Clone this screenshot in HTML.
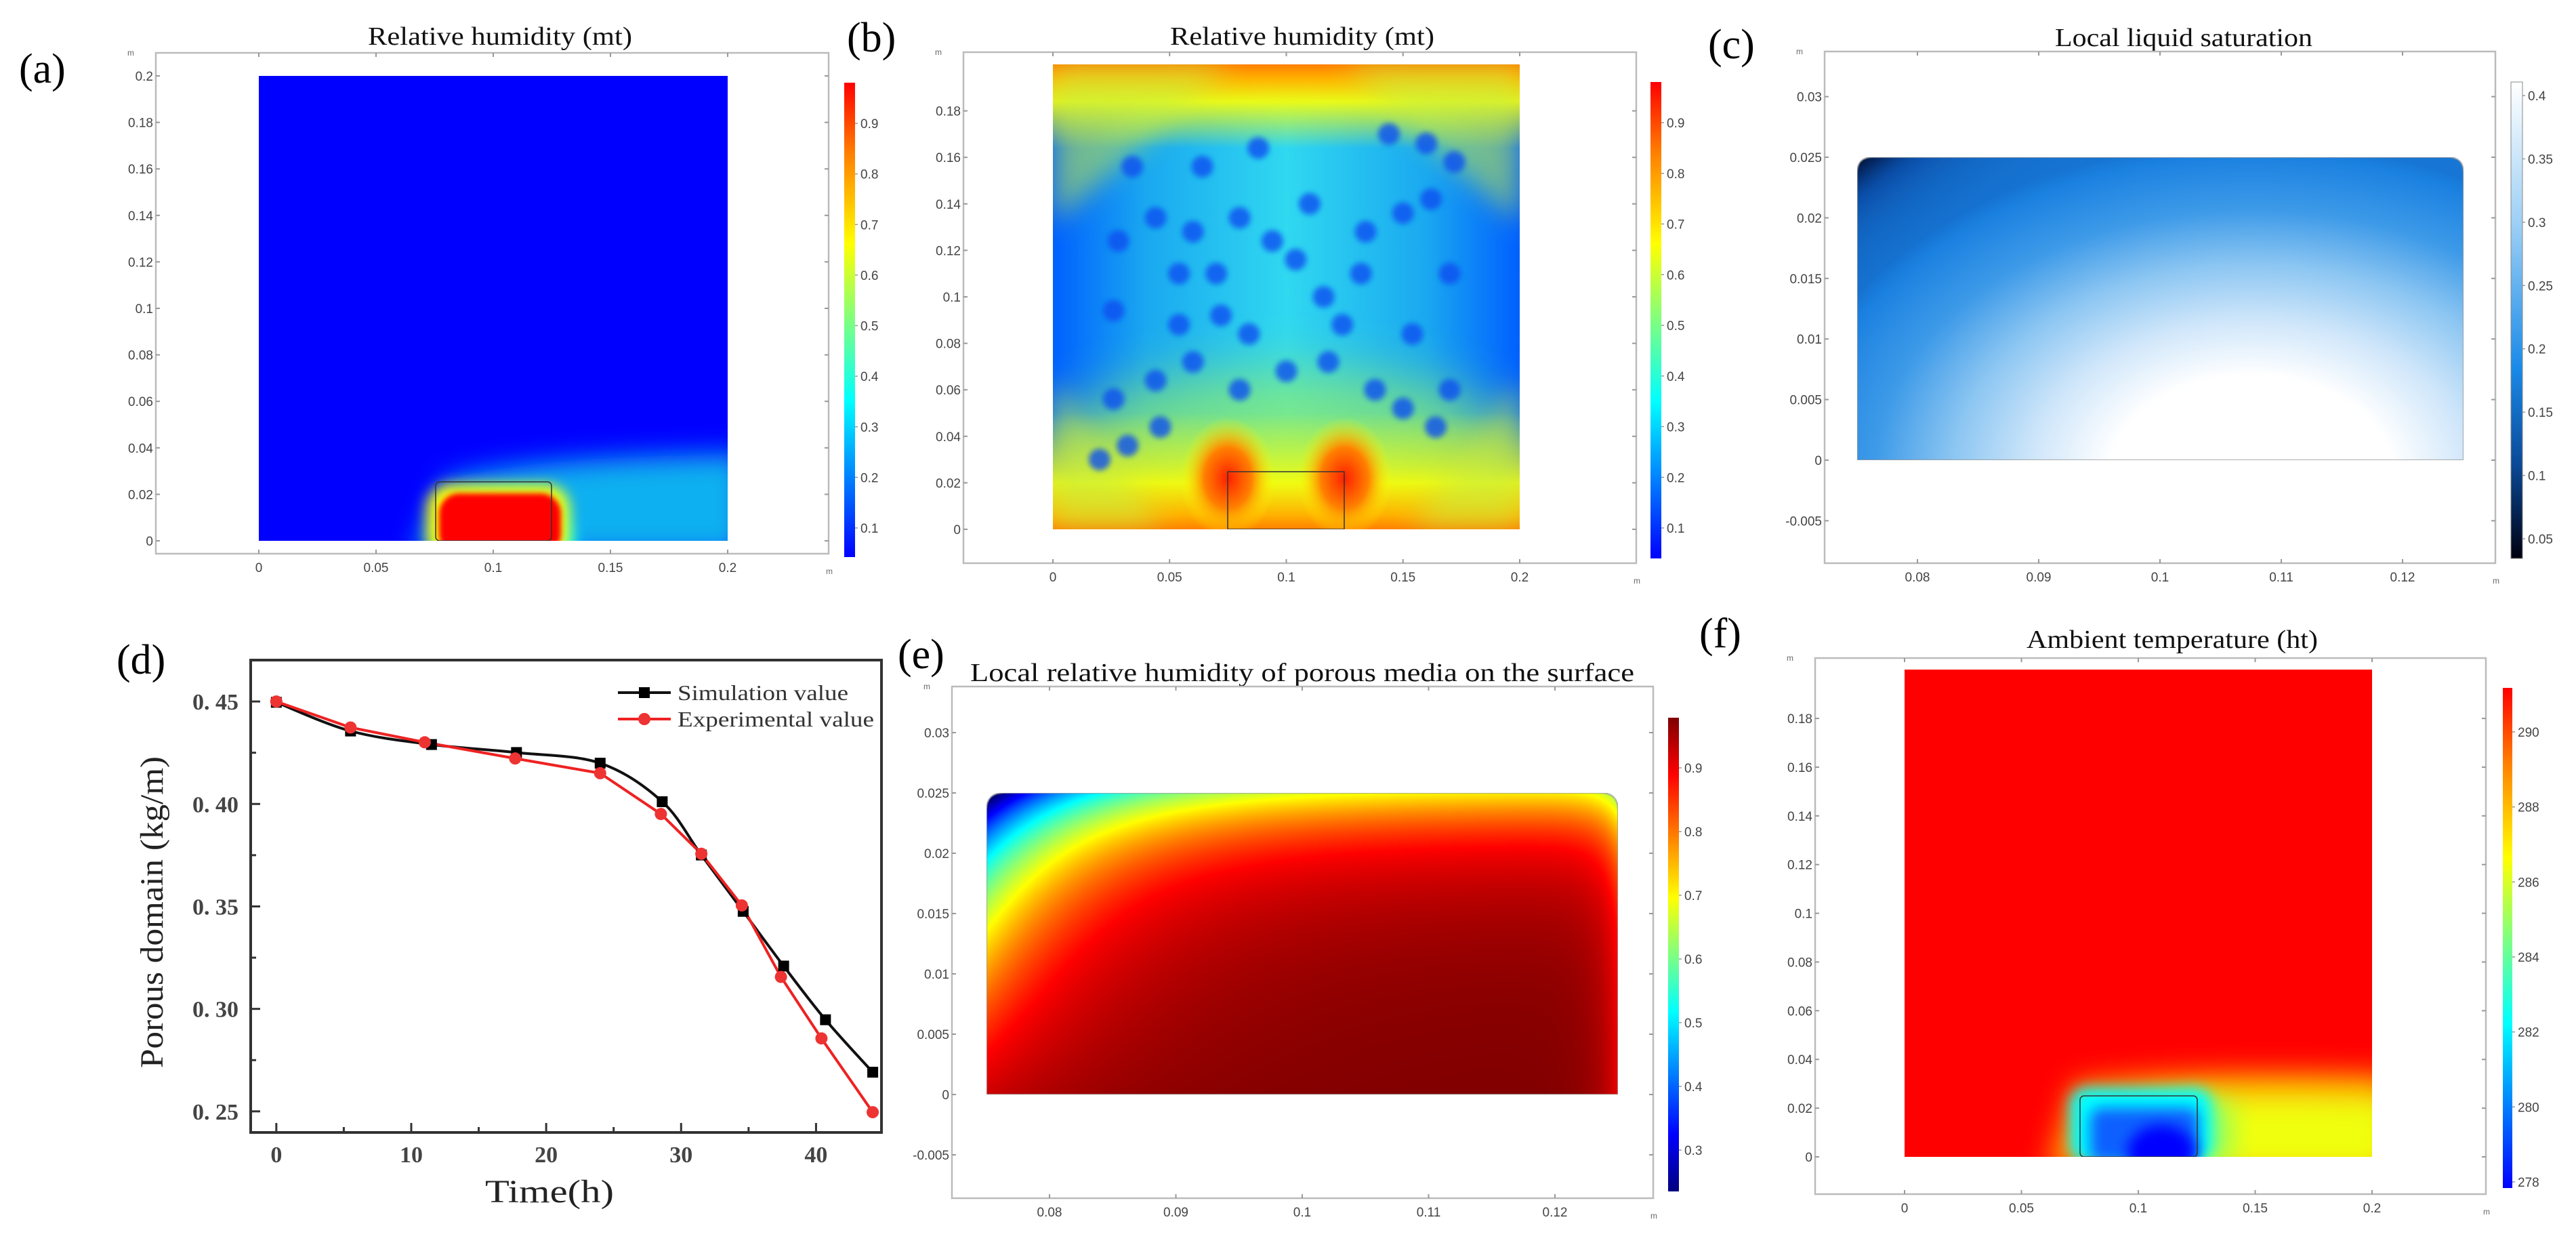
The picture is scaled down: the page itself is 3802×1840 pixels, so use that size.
<!DOCTYPE html>
<html><head><meta charset="utf-8"><style>
html,body{margin:0;padding:0;background:#fff;}
body{position:relative;width:3802px;height:1840px;overflow:hidden;}
svg{display:block;}
canvas{position:absolute;}
</style></head><body>
<svg id="fig" xmlns="http://www.w3.org/2000/svg" width="3802" height="1840" viewBox="0 0 3802 1840">
<defs>
<linearGradient id="jet" x1="0" y1="1" x2="0" y2="0">
<stop offset="0" stop-color="#0000ff"/><stop offset="0.33" stop-color="#00ffff"/><stop offset="0.5" stop-color="#7fff7f"/><stop offset="0.66" stop-color="#ffff00"/><stop offset="0.85" stop-color="#ff8000"/><stop offset="1" stop-color="#ff0000"/>
</linearGradient>
<linearGradient id="jetdark" x1="0" y1="1" x2="0" y2="0">
<stop offset="0" stop-color="#00007f"/><stop offset="0.12" stop-color="#0000ff"/><stop offset="0.38" stop-color="#00ffff"/><stop offset="0.62" stop-color="#ffff00"/><stop offset="0.88" stop-color="#ff0000"/><stop offset="1" stop-color="#7f0000"/>
</linearGradient>
<linearGradient id="blues" x1="0" y1="1" x2="0" y2="0">
<stop offset="0" stop-color="#000010"/><stop offset="0.2" stop-color="#0a4a99"/><stop offset="0.4" stop-color="#1a8ae8"/><stop offset="0.7" stop-color="#9ccff5"/><stop offset="1" stop-color="#ffffff"/>
</linearGradient>
<linearGradient id="bvert" x1="0" y1="0" x2="0" y2="1">
<stop offset="0" stop-color="#ff8000"/><stop offset="0.03" stop-color="#ffb000"/><stop offset="0.08" stop-color="#ffff00" stop-opacity="0.9"/><stop offset="0.18" stop-color="#ffff00" stop-opacity="0"/><stop offset="0.75" stop-color="#ffff00" stop-opacity="0"/><stop offset="0.9" stop-color="#ffff00" stop-opacity="0.9"/><stop offset="0.97" stop-color="#ffb000"/><stop offset="1" stop-color="#ff8000"/>
</linearGradient>
<linearGradient id="bhor" x1="0" y1="0" x2="1" y2="0">
<stop offset="0" stop-color="#0060ff"/><stop offset="0.2" stop-color="#1aa8f0"/><stop offset="0.5" stop-color="#30d8f0"/><stop offset="0.8" stop-color="#1aa8f0"/><stop offset="1" stop-color="#0060ff"/>
</linearGradient>
<radialGradient id="hot"><stop offset="0" stop-color="#ff2000"/><stop offset="0.5" stop-color="#ff8000"/><stop offset="1" stop-color="#ffff00" stop-opacity="0"/></radialGradient>
<filter id="blur40" x="-50%" y="-50%" width="200%" height="200%"><feGaussianBlur stdDeviation="40"/></filter>
<filter id="blur20" x="-50%" y="-50%" width="200%" height="200%"><feGaussianBlur stdDeviation="20"/></filter>
<filter id="blur10" x="-50%" y="-50%" width="200%" height="200%"><feGaussianBlur stdDeviation="10"/></filter>
<filter id="blur4" x="-50%" y="-50%" width="200%" height="200%"><feGaussianBlur stdDeviation="4"/></filter>
<clipPath id="clipA"><rect x="382" y="112" width="692" height="686"/></clipPath>
<clipPath id="clipB"><rect x="1554" y="95" width="689" height="686"/></clipPath>
<clipPath id="clipF"><rect x="2811" y="988" width="690" height="719"/></clipPath>
</defs>
<g id="root"></g>
</svg>
<script>
// ===== Chart (d) data =====
const simTime = [0, 5.5, 11.5, 17.8, 24, 28.6, 31.5, 34.6, 37.6, 40.7, 44.2];
const simValue = [0.4496, 0.4356, 0.4290, 0.4251, 0.4199, 0.4011, 0.3751, 0.3476, 0.3209, 0.2947, 0.2691];
const expTime = [0, 5.5, 11, 17.7, 24, 28.5, 31.5, 34.5, 37.4, 40.4, 44.2];
const expValue = [0.4500, 0.4373, 0.4301, 0.4222, 0.4150, 0.3951, 0.3757, 0.3505, 0.3156, 0.2856, 0.2496];
const xTicks = [0, 10, 20, 30, 40];
const yTicks = [0.25, 0.30, 0.35, 0.40, 0.45];
const yTickLabels = ["0. 25", "0. 30", "0. 35", "0. 40", "0. 45"];
const seriesNames = ["Simulation value", "Experimental value"];
// colorbar tick labels
const cbarA = ["0.1","0.2","0.3","0.4","0.5","0.6","0.7","0.8","0.9"];
const cbarC = ["0.4","0.35","0.3","0.25","0.2","0.15","0.1","0.05"];
const cbarE = ["0.9","0.8","0.7","0.6","0.5","0.4","0.3"];
const cbarF = ["290","288","286","284","282","280","278"];

const NS = "http://www.w3.org/2000/svg";
const root = document.getElementById('root');
function mk(tag, attrs, parent, text){
  const e = document.createElementNS(NS, tag);
  for (const k in attrs) e.setAttribute(k, attrs[k]);
  if (text !== undefined) e.textContent = text;
  (parent || root).appendChild(e);
  return e;
}
const SANS = '"Liberation Sans", sans-serif';
const SERIF = '"Liberation Serif", serif';

function panelLabel(txt, x, y, name){
  const t = mk('text', {x:x, y:y, 'font-family':SERIF, 'font-size':62, fill:'#000'}, root, txt);
  
  
}
function title(txt, cx, y, w, name){
  const t = mk('text', {x:cx, y:y, 'text-anchor':'middle', 'font-family':SERIF, 'font-size':38, fill:'#111', textLength:w, lengthAdjust:'spacingAndGlyphs'}, root, txt);
  
  
}
function comsolAxes(o){
  const g = mk('g', {});
  
  
  mk('rect', {x:o.fx0, y:o.fy0, width:o.fx1-o.fx0, height:o.fy1-o.fy0, fill:'none', stroke:'#bbb', 'stroke-width':2.5}, g);
  o.yt.forEach(v=>{
    const y = o.y0 + (v - 0) * o.ys;
    mk('line', {x1:o.fx0, y1:y, x2:o.fx0+6, y2:y, stroke:'#999', 'stroke-width':2}, g);
    mk('line', {x1:o.fx1, y1:y, x2:o.fx1-6, y2:y, stroke:'#999', 'stroke-width':2}, g);
    const t = mk('text', {x:o.fx0-4, y:y+7, 'text-anchor':'end', 'font-family':SANS, 'font-size':19, fill:'#444'}, g, o.yf(v));
    
    
  });
  o.xt.forEach(v=>{
    const x = o.x0 + v * o.xs;
    mk('line', {x1:x, y1:o.fy1, x2:x, y2:o.fy1-6, stroke:'#999', 'stroke-width':2}, g);
    mk('line', {x1:x, y1:o.fy0, x2:x, y2:o.fy0+6, stroke:'#999', 'stroke-width':2}, g);
    const t = mk('text', {x:x, y:o.fy1+27, 'text-anchor':'middle', 'font-family':SANS, 'font-size':19, fill:'#444'}, g, o.xf(v));
    
    
  });
  mk('text', {x:o.fx1-4, y:o.fy1+30, 'font-family':SANS, 'font-size':12, fill:'#666'}, g, 'm');
  mk('text', {x:o.fx0-42, y:o.fy0+4, 'font-family':SANS, 'font-size':12, fill:'#666'}, g, 'm');
}
function colorbar(x, y0, w, y1, grad, labels, ly0, ly1, name){
  const g = mk('g', {});
  
  
  mk('rect', {x:x, y:y0, width:w, height:y1-y0, fill:'url(#'+grad+')', stroke: grad==='blues'?'#888':'none', 'stroke-width':1}, g);
  labels.forEach((l,i)=>{
    const y = ly0 + (ly1-ly0)*i/(labels.length-1);
    mk('line', {x1:x+w, y1:y, x2:x+w+4, y2:y, stroke:'#999', 'stroke-width':1.5}, g);
    mk('text', {x:x+w+8, y:y+7, 'font-family':SANS, 'font-size':19, fill:'#444'}, g, l);
  });
}
function fmt(v){ return (Math.round(v*1000)/1000).toString(); }

function lerpMap(stops, t){
  if (t <= stops[0][0]) return stops[0].slice(1);
  for (let i=1;i<stops.length;i++){
    if (t <= stops[i][0]){
      const a = stops[i-1], b = stops[i], f = (t-a[0])/(b[0]-a[0]);
      return [a[1]+(b[1]-a[1])*f, a[2]+(b[2]-a[2])*f, a[3]+(b[3]-a[3])*f];
    }
  }
  return stops[stops.length-1].slice(1);
}
function heatCanvas(x, y, w, h, rad, fn, stops, name){
  const c = document.createElement('canvas');
  c.width = w; c.height = h;
  c.style.left = x + 'px'; c.style.top = y + 'px';
  
  
  document.body.appendChild(c);
  const ctx = c.getContext('2d');
  const img = ctx.createImageData(w, h);
  for (let j=0;j<h;j++){
    for (let i=0;i<w;i++){
      const col = lerpMap(stops, fn(i/(w-1), j/(h-1)));
      const k = (j*w+i)*4;
      img.data[k]=col[0]; img.data[k+1]=col[1]; img.data[k+2]=col[2]; img.data[k+3]=255;
    }
  }
  ctx.putImageData(img, 0, 0);
  ctx.globalCompositeOperation = 'destination-in';
  ctx.beginPath();
  ctx.moveTo(0, h); ctx.lineTo(0, rad); ctx.quadraticCurveTo(0,0,rad,0);
  ctx.lineTo(w-rad,0); ctx.quadraticCurveTo(w,0,w,rad); ctx.lineTo(w,h); ctx.closePath();
  ctx.fill();
  ctx.globalCompositeOperation = 'source-over';
  ctx.strokeStyle = 'rgba(150,150,150,0.8)'; ctx.lineWidth = 2; ctx.stroke();
}

// ===== Panel (a) =====
panelLabel('(a)', 28, 122, 'panel-label-a');
title('Relative humidity (mt)', 738, 66, 390, 'title-a');
comsolAxes({name:'panel-a', fx0:230, fy0:78, fx1:1223, fy1:817, x0:382, xs:3460, y0:798, ys:-3430,
  yt:[0,0.02,0.04,0.06,0.08,0.1,0.12,0.14,0.16,0.18,0.2], xt:[0,0.05,0.1,0.15,0.2], yf:fmt, xf:fmt});
(function(){
  const g = mk('g', {'clip-path':'url(#clipA)'});
  
  
  mk('rect', {x:382, y:112, width:692, height:686, fill:'#0000ff'}, g);
  mk('path', {d:'M610 820 L660 710 Q760 675 1100 670 L1100 820 Z', fill:'#10b0f0', filter:'url(#blur20)'}, g);
  mk('path', {d:'M640 820 L665 740 Q760 715 830 735 L855 820 Z', fill:'#00ffff', filter:'url(#blur10)'}, g);
  mk('rect', {x:630, y:715, width:210, height:110, rx:35, fill:'#ffff00', filter:'url(#blur10)'}, g);
  mk('rect', {x:648, y:728, width:180, height:90, rx:30, fill:'#ff0000', filter:'url(#blur4)'}, g);
  mk('rect', {x:643, y:711, width:171, height:87, rx:6, fill:'none', stroke:'#333', 'stroke-width':1.5}, g);
})();
colorbar(1246, 122, 16, 822, 'jet', cbarA.slice().reverse(), 182, 779, 'colorbar-a');

// ===== Panel (b) =====
panelLabel('(b)', 1250, 76, 'panel-label-b');
title('Relative humidity (mt)', 1922, 66, 390, 'title-b');
comsolAxes({name:'panel-b', fx0:1422, fy0:77, fx1:2415, fy1:831, x0:1554, xs:3445, y0:781, ys:-3430,
  yt:[0,0.02,0.04,0.06,0.08,0.1,0.12,0.14,0.16,0.18], xt:[0,0.05,0.1,0.15,0.2], yf:fmt, xf:fmt});
const blobs = [[0.17,0.78],[0.32,0.78],[0.44,0.82],[0.72,0.85],[0.80,0.83],[0.86,0.79],[0.22,0.67],[0.30,0.64],[0.40,0.67],[0.47,0.62],[0.55,0.70],[0.67,0.64],[0.75,0.68],[0.81,0.71],[0.14,0.62],[0.13,0.47],[0.27,0.55],[0.35,0.55],[0.58,0.50],[0.66,0.55],[0.85,0.55],[0.27,0.44],[0.36,0.46],[0.42,0.42],[0.62,0.44],[0.77,0.42],[0.13,0.28],[0.22,0.32],[0.30,0.36],[0.40,0.30],[0.50,0.34],[0.59,0.36],[0.69,0.30],[0.75,0.26],[0.85,0.30],[0.16,0.18],[0.23,0.22],[0.10,0.15],[0.82,0.22],[0.52,0.58]];
(function(){
  const g = mk('g', {'clip-path':'url(#clipB)'});
  
  
  mk('rect', {x:1554, y:95, width:689, height:686, fill:'url(#bhor)'}, g);
  mk('ellipse', {cx:1898, cy:640, rx:330, ry:90, fill:'#9af060', opacity:0.7, filter:'url(#blur40)'}, g);
  mk('rect', {x:1554, y:95, width:689, height:686, fill:'url(#bvert)'}, g);
  mk('path', {d:'M1554 95 L1820 95 L1554 330 Z', fill:'#c8f040', opacity:0.55, filter:'url(#blur20)'}, g);
  mk('path', {d:'M2243 95 L1980 95 L2243 330 Z', fill:'#c8f040', opacity:0.55, filter:'url(#blur20)'}, g);
  mk('path', {d:'M1554 781 L1554 560 L1720 781 Z', fill:'#c8f040', opacity:0.55, filter:'url(#blur20)'}, g);
  mk('path', {d:'M2243 781 L2243 560 L2080 781 Z', fill:'#c8f040', opacity:0.55, filter:'url(#blur20)'}, g);
  blobs.forEach(b=>{
    mk('circle', {cx:1554+b[0]*689, cy:781-b[1]*686, r:16, fill:'#1050f0', opacity:0.8, filter:'url(#blur4)'}, g);
  });
  mk('ellipse', {cx:1554+0.375*689, cy:781-0.11*686, rx:70, ry:90, fill:'url(#hot)'}, g);
  mk('ellipse', {cx:1554+0.625*689, cy:781-0.11*686, rx:70, ry:90, fill:'url(#hot)'}, g);
  mk('rect', {x:1812, y:696, width:172, height:85, fill:'none', stroke:'#333', 'stroke-width':1.5}, g);
})();
colorbar(2436, 121, 16, 824, 'jet', cbarA.slice().reverse(), 181, 779, 'colorbar-b');

// ===== Panel (c) =====
panelLabel('(c)', 2521, 86, 'panel-label-c');
title('Local liquid saturation', 3223, 68, 380, 'title-c');
comsolAxes({name:'panel-c', fx0:2693, fy0:76, fx1:3683, fy1:831, x0:2830-0.08*17900, xs:17900, y0:679, ys:-17880,
  yt:[-0.005,0,0.005,0.01,0.015,0.02,0.025,0.03], xt:[0.08,0.09,0.1,0.11,0.12], yf:fmt, xf:fmt});
const blueStops = [[0.03,0,6,20],[0.07,5,40,100],[0.1,10,78,168],[0.15,26,128,224],[0.2,61,154,232],[0.25,140,198,242],[0.3,207,230,250],[0.35,255,255,255],[1,255,255,255]];
heatCanvas(2741, 232, 895, 447, 23, function(u, v){
  const r = Math.sqrt(Math.pow((u-0.65)/0.78,2) + Math.pow((v-1.05)/1.1,2));
  return 0.44 - 0.30*Math.min(1, r) - 0.1*Math.exp(-(u/0.1 + v/0.15));
}, blueStops, 'heatmap-c');
colorbar(3706, 121, 17, 824, 'blues', cbarC.slice().reverse(), 795, 141, 'colorbar-c');

// ===== Panel (d): line chart =====
panelLabel('(d)', 172, 994, 'panel-label-d');
const D = {x0:370, x1:1301, y0:974, y1:1671, tmin:-1.9, tmax:44.85, vmin:0.2397, vmax:0.4702};
function dx(t){ return D.x0 + (t - D.tmin) / (D.tmax - D.tmin) * (D.x1 - D.x0); }
function dy(v){ return D.y1 - (v - D.vmin) / (D.vmax - D.vmin) * (D.y1 - D.y0); }
(function(){
  const g = mk('g', {});
  
  
  const frame = mk('rect', {x:D.x0, y:D.y0, width:D.x1-D.x0, height:D.y1-D.y0, fill:'none', stroke:'#333', 'stroke-width':4}, g);
  
  
  yTicks.forEach((v,i)=>{
    const y = dy(v);
    mk('line', {x1:D.x0, y1:y, x2:D.x0+14, y2:y, stroke:'#333', 'stroke-width':3}, g);
    const ym = dy(v + 0.025);
    if (v + 0.025 < D.vmax) mk('line', {x1:D.x0, y1:ym, x2:D.x0+8, y2:ym, stroke:'#333', 'stroke-width':3}, g);
    const t = mk('text', {x:D.x0-18, y:y+12, 'text-anchor':'end', 'font-family':SERIF, 'font-size':34, 'font-weight':'bold', fill:'#444'}, g, yTickLabels[i]);
    
    
  });
  xTicks.forEach(v=>{
    const x = dx(v);
    mk('line', {x1:x, y1:D.y1, x2:x, y2:D.y1-14, stroke:'#333', 'stroke-width':3}, g);
    const xm = dx(v + 5);
    if (v + 5 < D.tmax) mk('line', {x1:xm, y1:D.y1, x2:xm, y2:D.y1-8, stroke:'#333', 'stroke-width':3}, g);
    const t = mk('text', {x:x, y:D.y1+44, 'text-anchor':'middle', 'font-family':SERIF, 'font-size':34, 'font-weight':'bold', fill:'#444'}, g, String(v));
    
    
  });
  const yt = mk('text', {x:0, y:0, transform:'translate(240 1346) rotate(-90)', 'text-anchor':'middle', 'font-family':SERIF, 'font-size':48, fill:'#222', textLength:460, lengthAdjust:'spacingAndGlyphs'}, g, 'Porous domain (kg/m)');
  
  
  const xt = mk('text', {x:811, y:1774, 'text-anchor':'middle', 'font-family':SERIF, 'font-size':48, fill:'#222', textLength:190, lengthAdjust:'spacingAndGlyphs'}, g, 'Time(h)');
  
  

  function smoothPath(xs, ys){
    const p = xs.map((t,i)=>[dx(t), dy(ys[i])]);
    let d = 'M' + p[0][0] + ' ' + p[0][1];
    for (let i=0;i<p.length-1;i++){
      const p0 = p[Math.max(0,i-1)], p1 = p[i], p2 = p[i+1], p3 = p[Math.min(p.length-1,i+2)];
      const c1x = p1[0] + (p2[0]-p0[0])/6, c1y = p1[1] + (p2[1]-p0[1])/6;
      const c2x = p2[0] - (p3[0]-p1[0])/6, c2y = p2[1] - (p3[1]-p1[1])/6;
      d += ' C' + c1x + ' ' + c1y + ' ' + c2x + ' ' + c2y + ' ' + p2[0] + ' ' + p2[1];
    }
    return d;
  }
  const simLine = mk('path', {d:smoothPath(simTime, simValue), fill:'none', stroke:'#111', 'stroke-width':4}, g);
  
  
  const expLine = mk('path', {d:'M' + expTime.map((t,i)=>dx(t)+' '+dy(expValue[i])).join(' L'), fill:'none', stroke:'#ee2222', 'stroke-width':4}, g);
  
  
  simTime.forEach((t,i)=>{
    const m = mk('rect', {x:dx(t)-8, y:dy(simValue[i])-8, width:16, height:16, fill:'#000'}, g);
    
    
  });
  expTime.forEach((t,i)=>{
    const m = mk('circle', {cx:dx(t), cy:dy(expValue[i]), r:9, fill:'#ee3333'}, g);
    
    
  });
  const lg = mk('g', {}, g);
  
  
  mk('line', {x1:912, y1:1022, x2:990, y2:1022, stroke:'#111', 'stroke-width':4}, lg);
  mk('rect', {x:943, y:1014, width:16, height:16, fill:'#000'}, lg);
  const l1 = mk('text', {x:1000, y:1033, 'font-family':SERIF, 'font-size':32, fill:'#333', textLength:252, lengthAdjust:'spacingAndGlyphs'}, lg, seriesNames[0]);
  
  
  mk('line', {x1:912, y1:1061, x2:990, y2:1061, stroke:'#ee2222', 'stroke-width':4}, lg);
  mk('circle', {cx:951, cy:1061, r:9, fill:'#ee3333'}, lg);
  const l2 = mk('text', {x:1000, y:1072, 'font-family':SERIF, 'font-size':32, fill:'#333', textLength:290, lengthAdjust:'spacingAndGlyphs'}, lg, seriesNames[1]);
  
  
})();

// ===== Panel (e) =====
panelLabel('(e)', 1325, 986, 'panel-label-e');
title('Local relative humidity of porous media on the surface', 1922, 1005, 980, 'title-e');
comsolAxes({name:'panel-e', fx0:1405, fy0:1013, fx1:2440, fy1:1768, x0:1549-0.08*18650, xs:18650, y0:1615, ys:-17800,
  yt:[-0.005,0,0.005,0.01,0.015,0.02,0.025,0.03], xt:[0.08,0.09,0.1,0.11,0.12], yf:fmt, xf:fmt});
const jetDarkStops = [[0.23,0,0,127],[0.32,0,0,255],[0.5,0,255,255],[0.68,255,255,0],[0.86,255,0,0],[0.98,127,0,0]];
heatCanvas(1456, 1170, 932, 445, 25, function(u, v){
  return 0.98 - 0.28*Math.exp(-v/0.2) - 0.28*Math.exp(-u/0.15)*(1.2 - v) - 0.2*Math.exp(-(u/0.25 + v/0.4)) - 0.1*Math.exp(-(1-u)/0.03);
}, jetDarkStops, 'heatmap-e');
colorbar(2462, 1059, 16, 1758, 'jetdark', cbarE, 1133, 1697, 'colorbar-e');

// ===== Panel (f) =====
panelLabel('(f)', 2508, 955, 'panel-label-f');
title('Ambient temperature (ht)', 3206, 956, 430, 'title-f');
comsolAxes({name:'panel-f', fx0:2679, fy0:971, fx1:3669, fy1:1762, x0:2811, xs:3450, y0:1707, ys:-3594,
  yt:[0,0.02,0.04,0.06,0.08,0.1,0.12,0.14,0.16,0.18], xt:[0,0.05,0.1,0.15,0.2], yf:fmt, xf:fmt});
(function(){
  const g = mk('g', {'clip-path':'url(#clipF)'});
  
  
  mk('rect', {x:2811, y:988, width:690, height:719, fill:'#ff0000'}, g);
  mk('path', {d:'M3020 1730 L3060 1600 Q3200 1575 3530 1585 L3530 1730 Z', fill:'#ffa000', filter:'url(#blur20)'}, g);
  mk('path', {d:'M3160 1730 L3170 1625 Q3300 1610 3530 1620 L3530 1730 Z', fill:'#f0ff10', filter:'url(#blur20)'}, g);
  mk('rect', {x:3220, y:1625, width:70, height:90, fill:'#80ff70', filter:'url(#blur20)'}, g);
  mk('rect', {x:3055, y:1605, width:210, height:110, rx:25, fill:'#00ffff', filter:'url(#blur10)'}, g);
  mk('rect', {x:3085, y:1635, width:160, height:80, rx:15, fill:'#1060ff', filter:'url(#blur10)'}, g);
  mk('ellipse', {cx:3190, cy:1700, rx:50, ry:40, fill:'#0000ff', filter:'url(#blur10)'}, g);
  mk('rect', {x:3070, y:1617, width:173, height:90, rx:6, fill:'none', stroke:'#333', 'stroke-width':1.5}, g);
})();
colorbar(3694, 1015, 14, 1753, 'jet', cbarF, 1080, 1744, 'colorbar-f');
</script>
</body></html>
